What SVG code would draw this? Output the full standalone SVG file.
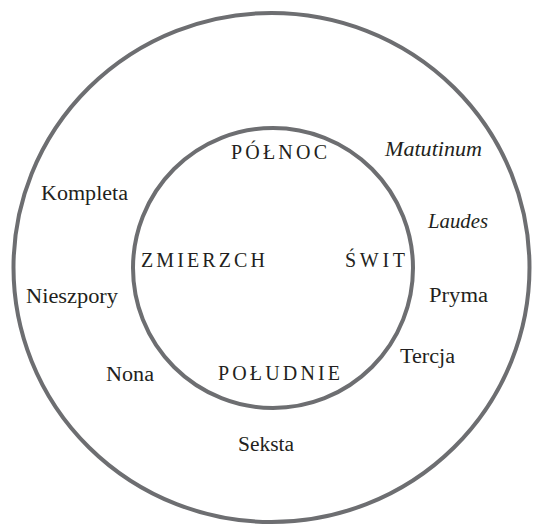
<svg xmlns="http://www.w3.org/2000/svg" width="534" height="525" viewBox="0 0 534 525">
<style>
.ring{fill:none;stroke:#6d6e71;stroke-width:4}
text{fill:#231f20}
.hour{font-size:20px}
.it{font-style:italic}
.cap{font-size:20px}
</style>
<rect width="534" height="525" fill="#ffffff"/>
<g id="outer-ring"><ellipse class="ring" cx="271.5" cy="267.5" rx="258" ry="254.5"/></g>
<g id="inner-ring"><circle class="ring" cx="273" cy="268" r="140"/></g>
<g font-family="'Liberation Serif', 'DejaVu Serif', serif">
<g id="polnoc"><text class="cap" x="231" y="159" textLength="96" lengthAdjust="spacing">PÓŁNOC</text></g>
<g id="zmierzch"><text class="cap" x="141" y="267" textLength="124" lengthAdjust="spacing">ZMIERZCH</text></g>
<g id="swit"><text class="cap" x="345" y="267" textLength="60" lengthAdjust="spacing">ŚWIT</text></g>
<g id="poludnie"><text class="cap" x="218" y="380" textLength="122" lengthAdjust="spacing">POŁUDNIE</text></g>
<g id="matutinum"><text class="hour it" x="385" y="156" textLength="97" lengthAdjust="spacingAndGlyphs">Matutinum</text></g>
<g id="laudes"><text class="hour it" x="428" y="228" textLength="60" lengthAdjust="spacingAndGlyphs">Laudes</text></g>
<g id="pryma"><text class="hour" x="429" y="302" textLength="59" lengthAdjust="spacingAndGlyphs">Pryma</text></g>
<g id="tercja"><text class="hour" x="400" y="363" textLength="55" lengthAdjust="spacingAndGlyphs">Tercja</text></g>
<g id="seksta"><text class="hour" x="238" y="451" textLength="56" lengthAdjust="spacingAndGlyphs">Seksta</text></g>
<g id="nona"><text class="hour" x="106" y="381" textLength="48" lengthAdjust="spacingAndGlyphs">Nona</text></g>
<g id="nieszpory"><text class="hour" x="26" y="303" textLength="92" lengthAdjust="spacingAndGlyphs">Nieszpory</text></g>
<g id="kompleta"><text class="hour" x="41" y="200" textLength="87" lengthAdjust="spacingAndGlyphs">Kompleta</text></g>
</g>
<g id="connectors"></g>
</svg>
